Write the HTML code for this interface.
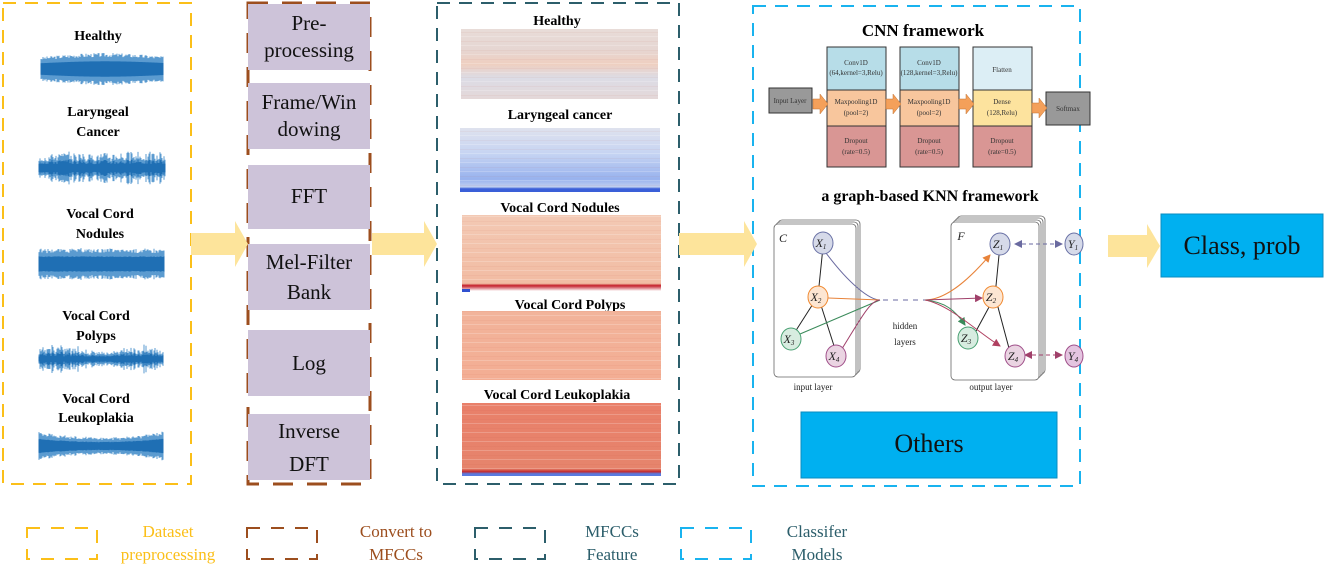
<!DOCTYPE html>
<html><head><meta charset="utf-8">
<style>
body{margin:0;background:#fff;}
svg{display:block;font-family:"Liberation Serif",serif;}
.b{font-weight:bold;}
</style></head>
<body>
<svg id="s" width="1326" height="576" viewBox="0 0 1326 576" xmlns="http://www.w3.org/2000/svg">
<defs>
<linearGradient id="g1" x1="0" y1="0" x2="0" y2="1">
<stop offset="0" stop-color="#e8dcd8"/><stop offset="0.3" stop-color="#e6d6d2"/><stop offset="0.5" stop-color="#efcfc0"/><stop offset="0.7" stop-color="#dcdce6"/><stop offset="1" stop-color="#e4d8d8"/></linearGradient>
<linearGradient id="g2" x1="0" y1="0" x2="0" y2="1">
<stop offset="0" stop-color="#dfe2ee"/><stop offset="0.4" stop-color="#c6d4f2"/><stop offset="0.8" stop-color="#98b2ee"/><stop offset="0.92" stop-color="#c0cff0"/><stop offset="0.95" stop-color="#3a5fd8"/><stop offset="1" stop-color="#3a5fd8"/></linearGradient>
<linearGradient id="g3" x1="0" y1="0" x2="0" y2="1">
<stop offset="0" stop-color="#f3c9b4"/><stop offset="0.9" stop-color="#f2bca3"/><stop offset="0.93" stop-color="#c41e2a"/><stop offset="1" stop-color="#fff"/></linearGradient>
<linearGradient id="g4" x1="0" y1="0" x2="0" y2="1">
<stop offset="0" stop-color="#f2b49b"/><stop offset="1" stop-color="#f3ad93"/></linearGradient>
<linearGradient id="g5" x1="0" y1="0" x2="0" y2="1">
<stop offset="0" stop-color="#e9806a"/><stop offset="0.9" stop-color="#e6846c"/><stop offset="0.94" stop-color="#c42a2c"/><stop offset="0.97" stop-color="#5a7ae0"/><stop offset="1" stop-color="#5a7ae0"/></linearGradient>
<pattern id="st" width="10" height="9" patternUnits="userSpaceOnUse"><rect width="10" height="1" fill="#fff" opacity="0.2"/><rect y="5" width="10" height="1" fill="#b04030" opacity="0.05"/></pattern>
<marker id="ao" markerWidth="8" markerHeight="8" refX="7" refY="4" orient="auto"><path d="M0,0 L8,4 L0,8 z" fill="#e8833a"/></marker>
<marker id="ap" markerWidth="8" markerHeight="8" refX="7" refY="4" orient="auto"><path d="M0,0 L8,4 L0,8 z" fill="#a0406a"/></marker>
<marker id="ag" markerWidth="8" markerHeight="8" refX="7" refY="4" orient="auto"><path d="M0,0 L8,4 L0,8 z" fill="#3a8a5a"/></marker>
<marker id="ar" markerWidth="8" markerHeight="8" refX="7" refY="4" orient="auto"><path d="M0,0 L8,4 L0,8 z" fill="#b04060"/></marker>
<marker id="ab" markerWidth="8" markerHeight="8" refX="7" refY="4" orient="auto"><path d="M0,0 L8,4 L0,8 z" fill="#6a6aa0"/></marker>
<marker id="ab2" markerWidth="8" markerHeight="8" refX="1" refY="4" orient="auto"><path d="M8,0 L0,4 L8,8 z" fill="#6a6aa0"/></marker>
<marker id="ap2" markerWidth="8" markerHeight="8" refX="1" refY="4" orient="auto"><path d="M8,0 L0,4 L8,8 z" fill="#a0406a"/></marker>
</defs>

<rect x="3" y="3" width="188" height="481" fill="none" stroke="#fbbf19" stroke-width="2" stroke-dasharray="13,9"/>
<rect x="437" y="3" width="242" height="481" fill="none" stroke="#2c5e6b" stroke-width="2" stroke-dasharray="13,9"/>
<rect x="753" y="6" width="327" height="480" fill="none" stroke="#19b3ef" stroke-width="2" stroke-dasharray="13,9"/>
<rect x="248" y="3" width="122" height="481" fill="none" stroke="#9c4e1e" stroke-width="3" stroke-dasharray="20,14"/>

<g fill="#fde49b">
<path d="M191,233 H235 V221 L248,244 L235,267 V255 H191 Z"/>
<path d="M372,233 H424 V221 L437,244 L424,267 V255 H372 Z"/>
<path d="M679,233 H744 V221 L757,244 L744,267 V255 H679 Z"/>
<path d="M1108,235 H1147 V224 L1160,246 L1147,268 V257 H1108 Z"/>
</g>

<g class="b" font-size="14" text-anchor="middle" fill="#000">
<text x="98" y="40">Healthy</text>
<text x="98" y="116">Laryngeal</text><text x="98" y="136">Cancer</text>
<text x="100" y="218">Vocal Cord</text><text x="100" y="238">Nodules</text>
<text x="96" y="320">Vocal Cord</text><text x="96" y="340">Polyps</text>
<text x="96" y="403">Vocal Cord</text><text x="96" y="422">Leukoplakia</text>
</g>
<g id="waves"></g>

<g fill="#cdc3d9">
<rect x="248" y="4" width="122" height="66"/>
<rect x="248" y="83" width="122" height="66"/>
<rect x="248" y="165" width="122" height="64"/>
<rect x="248" y="244" width="122" height="66"/>
<rect x="248" y="330" width="122" height="66"/>
<rect x="248" y="414" width="122" height="66"/>
</g>
<g font-size="21" text-anchor="middle" fill="#111">
<text x="309" y="30">Pre-</text><text x="309" y="57">processing</text>
<text x="309" y="109">Frame/Win</text><text x="309" y="136">dowing</text>
<text x="309" y="203">FFT</text>
<text x="309" y="269">Mel-Filter</text><text x="309" y="299">Bank</text>
<text x="309" y="370">Log</text>
<text x="309" y="438">Inverse</text><text x="309" y="471">DFT</text>
</g>

<g class="b" font-size="14" text-anchor="middle">
<text x="557" y="25">Healthy</text>
<text x="560" y="119">Laryngeal cancer</text>
<text x="560" y="212">Vocal Cord Nodules</text>
<text x="570" y="309">Vocal Cord Polyps</text>
<text x="557" y="399">Vocal Cord Leukoplakia</text>
</g>
<rect x="461" y="29" width="197" height="70" fill="url(#g1)"/><rect x="461" y="29" width="197" height="70" fill="url(#st)"/>
<rect x="460" y="128" width="200" height="64" fill="url(#g2)"/><rect x="460" y="128" width="200" height="58" fill="url(#st)"/>
<rect x="462" y="215" width="199" height="76" fill="url(#g3)"/><rect x="462" y="215" width="199" height="70" fill="url(#st)"/>
<rect x="462" y="289" width="8" height="3" fill="#3050d0"/>
<rect x="462" y="311" width="199" height="69" fill="url(#g4)"/><rect x="462" y="311" width="199" height="69" fill="url(#st)"/>
<rect x="462" y="403" width="199" height="73" fill="url(#g5)"/><rect x="462" y="403" width="199" height="66" fill="url(#st)"/>

<text x="923" y="36" class="b" font-size="17" text-anchor="middle">CNN framework</text>
<g stroke="#333" stroke-width="1">
<rect x="769" y="88" width="43" height="25" fill="#999"/>
<rect x="1046" y="92" width="44" height="33" fill="#999"/>
<rect x="827" y="47" width="59" height="43" fill="#b7dde8"/><rect x="827" y="90" width="59" height="36" fill="#f8c69d"/><rect x="827" y="126" width="59" height="41" fill="#d99694"/>
<rect x="900" y="47" width="59" height="43" fill="#b7dde8"/><rect x="900" y="90" width="59" height="36" fill="#f8c69d"/><rect x="900" y="126" width="59" height="41" fill="#d99694"/>
<rect x="973" y="47" width="59" height="43" fill="#dceef5"/><rect x="973" y="90" width="59" height="36" fill="#fde39e"/><rect x="973" y="126" width="59" height="41" fill="#d99694"/>
</g>
<g fill="#f4a05a" stroke="#c07030" stroke-width="0.5">
<path d="M813,99 H820 V94 L828,104 L820,114 V109 H813Z"/>
<path d="M886,99 H893 V94 L901,104 L893,114 V109 H886Z"/>
<path d="M959,99 H966 V94 L974,104 L966,114 V109 H959Z"/>
<path d="M1032,103 H1039 V98 L1047,108 L1039,118 V113 H1032Z"/>
</g>
<g font-size="7" text-anchor="middle" fill="#333">
<text x="790" y="103">Input Layer</text><text x="1068" y="111">Softmax</text>
<text x="856" y="65">Conv1D</text><text x="856" y="75">(64,kernel=3,Relu)</text>
<text x="929" y="65">Conv1D</text><text x="929" y="75">(128,kernel=3,Relu)</text>
<text x="1002" y="72">Flatten</text>
<text x="856" y="104">Maxpooling1D</text><text x="856" y="115">(pool=2)</text>
<text x="929" y="104">Maxpooling1D</text><text x="929" y="115">(pool=2)</text>
<text x="1002" y="104">Dense</text><text x="1002" y="115">(128,Relu)</text>
<text x="856" y="143">Dropout</text><text x="856" y="154">(rate=0.5)</text>
<text x="929" y="143">Dropout</text><text x="929" y="154">(rate=0.5)</text>
<text x="1002" y="143">Dropout</text><text x="1002" y="154">(rate=0.5)</text>
</g>

<text x="930" y="201" class="b" font-size="16" text-anchor="middle">a graph-based KNN framework</text>
<g fill="#fff" stroke="#666" stroke-width="0.8">
<rect x="778" y="220" width="82" height="153" rx="4"/><rect x="776" y="222" width="82" height="153" rx="4"/><rect x="774" y="224" width="82" height="153" rx="4"/>
<rect x="957" y="216" width="88" height="158" rx="4"/><rect x="955" y="218" width="88" height="158" rx="4"/><rect x="953" y="220" width="88" height="158" rx="4"/><rect x="951" y="222" width="88" height="158" rx="4"/>
</g>
<g fill="none" stroke-width="1">
<path d="M823,247 L818,296 M818,296 L795,332 M818,296 L836,352 M1000,245 L995,296 M995,296 L975,333 M995,296 L1010,352" stroke="#222"/>
<path d="M826,253 C850,285 870,300 880,300" stroke="#6a6aa0"/>
<path d="M828,298 L880,300" stroke="#e8833a"/>
<path d="M800,334 L880,300" stroke="#3a8a5a"/>
<path d="M840,352 C860,320 870,300 880,300" stroke="#a0406a"/>
<path d="M883,300 H925" stroke="#6a6aa0" stroke-dasharray="5,5"/>
<path d="M925,300 C940,300 960,290 990,255" stroke="#e8833a" marker-end="url(#ao)"/>
<path d="M925,300 L982,298" stroke="#a0406a" marker-end="url(#ap)"/>
<path d="M925,300 C945,302 955,310 965,325" stroke="#3a8a5a" marker-end="url(#ag)"/>
<path d="M925,300 C950,305 975,330 1000,346" stroke="#b04060" marker-end="url(#ar)"/>
<path d="M1015,244 H1062" stroke="#6a6aa0" stroke-dasharray="4,3" marker-start="url(#ab2)" marker-end="url(#ab)"/>
<path d="M1025,355 H1062" stroke="#a0406a" stroke-dasharray="4,3" marker-start="url(#ap2)" marker-end="url(#ap)"/>
</g>
<g stroke-width="1">
<ellipse cx="823" cy="243" rx="10" ry="11" fill="#d6dae9" stroke="#6a72a6"/>
<ellipse cx="818" cy="297" rx="10" ry="11" fill="#fde6d2" stroke="#f08a32"/>
<ellipse cx="791" cy="339" rx="10" ry="11" fill="#d7ece0" stroke="#48a072"/>
<ellipse cx="836" cy="356" rx="10" ry="11" fill="#ead4e2" stroke="#a0508a"/>
<ellipse cx="1000" cy="244" rx="10" ry="11" fill="#d6dae9" stroke="#6a72a6"/>
<ellipse cx="993" cy="297" rx="10" ry="11" fill="#fde6d2" stroke="#f08a32"/>
<ellipse cx="968" cy="338" rx="10" ry="11" fill="#d7ece0" stroke="#48a072"/>
<ellipse cx="1015" cy="356" rx="10" ry="11" fill="#ead4e2" stroke="#a0508a"/>
<ellipse cx="1074" cy="244" rx="9" ry="11" fill="#d6dae9" stroke="#6a72a6"/>
<ellipse cx="1074" cy="356" rx="9" ry="11" fill="#e4c4e0" stroke="#a0508a"/>
</g>
<g font-size="12" font-style="italic" text-anchor="middle" fill="#222">
<text x="783" y="242">C</text><text x="961" y="240">F</text>
<text x="821" y="247">X<tspan font-size="7" dy="2">1</tspan></text>
<text x="816" y="301">X<tspan font-size="7" dy="2">2</tspan></text>
<text x="789" y="343">X<tspan font-size="7" dy="2">3</tspan></text>
<text x="834" y="360">X<tspan font-size="7" dy="2">4</tspan></text>
<text x="998" y="248">Z<tspan font-size="7" dy="2">1</tspan></text>
<text x="991" y="301">Z<tspan font-size="7" dy="2">2</tspan></text>
<text x="966" y="342">Z<tspan font-size="7" dy="2">3</tspan></text>
<text x="1013" y="360">Z<tspan font-size="7" dy="2">4</tspan></text>
<text x="1073" y="248">Y<tspan font-size="7" dy="2">1</tspan></text>
<text x="1073" y="360">Y<tspan font-size="7" dy="2">4</tspan></text>
</g>
<g font-size="9" text-anchor="middle" fill="#222">
<text x="905" y="329">hidden</text><text x="905" y="345">layers</text>
<text x="813" y="390">input layer</text><text x="991" y="390">output layer</text>
</g>

<rect x="801" y="412" width="256" height="66" fill="#00b0f0" stroke="#0a8cc0"/>
<text x="929" y="452" font-size="26" text-anchor="middle" fill="#111">Others</text>
<rect x="1161" y="214" width="162" height="63" fill="#00b0f0" stroke="#0a8cc0"/>
<text x="1242" y="254" font-size="26" text-anchor="middle" fill="#111">Class, prob</text>

<rect x="27" y="528" width="70" height="31" fill="none" stroke="#fbbf19" stroke-width="2" stroke-dasharray="13,11"/>
<rect x="247" y="528" width="70" height="31" fill="none" stroke="#9c4e1e" stroke-width="2" stroke-dasharray="13,11"/>
<rect x="475" y="528" width="70" height="31" fill="none" stroke="#2c5e6b" stroke-width="2" stroke-dasharray="13,11"/>
<rect x="681" y="528" width="70" height="31" fill="none" stroke="#19b3ef" stroke-width="2" stroke-dasharray="13,11"/>
<g font-size="17" text-anchor="middle">
<text x="168" y="537" fill="#fbbf19">Dataset</text><text x="168" y="560" fill="#fbbf19">preprocessing</text>
<text x="396" y="537" fill="#9c4e1e">Convert to</text><text x="396" y="560" fill="#9c4e1e">MFCCs</text>
<text x="612" y="537" fill="#2c5e6b">MFCCs</text><text x="612" y="560" fill="#2c5e6b">Feature</text>
<text x="817" y="537" fill="#2c5e6b">Classifer</text><text x="817" y="560" fill="#2c5e6b">Models</text>
</g>
</svg>
<script>
(function(){
var g=document.getElementById('waves'),ns='http://www.w3.org/2000/svg';
var W=[[41,163,69,14,'h'],[39,165,168,14,'n'],[39,164,264,14,'s'],[39,163,359,11,'p'],[39,163,446,12,'l']];
var seed=3;function r(){seed=(seed*9301+49297)%233280;return seed/233280;}
W.forEach(function(w){
 var d='',d2='';
 for(var x=w[0];x<=w[1];x+=1){
  var t=(x-w[0])/(w[1]-w[0]),a=w[3];
  if(w[4]=='h')a*=0.75+0.25*Math.sin(t*3);
  if(w[4]=='n')a*=0.5+0.6*r();
  if(w[4]=='p')a*=0.4+0.9*r()*(0.6+0.4*Math.sin(t*9));
  if(w[4]=='l')a*=0.55+0.45*Math.pow(Math.abs(2*t-1),2)+0.1*r();
  if(w[4]=='s')a*=0.9+0.1*r();
  var a1=a*(0.85+0.3*r());
  d+='M'+x+','+(w[2]-a1)+'V'+(w[2]+a1);
  d2+='M'+x+','+(w[2]-a*0.55)+'V'+(w[2]+a*0.55);
 }
 var p=document.createElementNS(ns,'path');p.setAttribute('d',d);p.setAttribute('stroke','#5b9bd0');p.setAttribute('stroke-width','1');g.appendChild(p);
 var q=document.createElementNS(ns,'path');q.setAttribute('d',d2);q.setAttribute('stroke','#1f6fb4');q.setAttribute('stroke-width','1');g.appendChild(q);
});
})();
</script>
</body></html>
